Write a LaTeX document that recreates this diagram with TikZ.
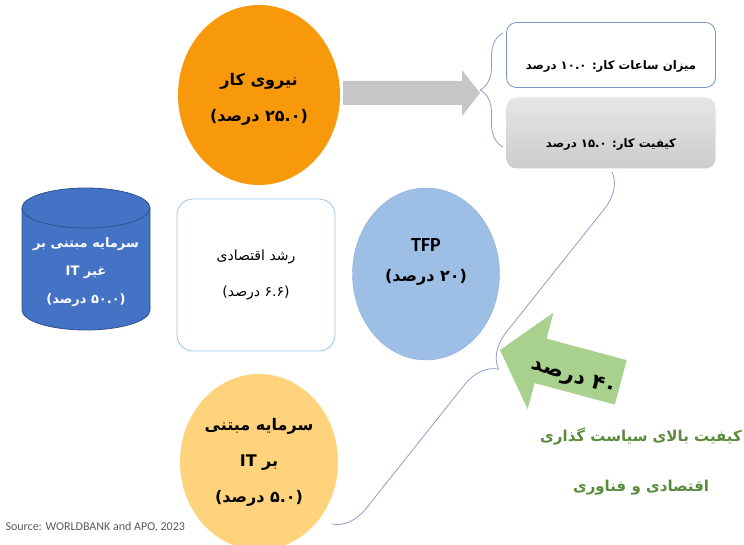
\documentclass[tikz,border=0pt]{standalone}
\usepackage{fontspec}
\setmainfont{Carlito}
\newfontfamily\fa[Script=Arabic]{DejaVu Sans}
\TeXXeTstate=1
\usetikzlibrary{shapes.geometric,decorations.pathreplacing}
\definecolor{labour}{HTML}{F8990B}
\definecolor{itorange}{HTML}{FFD27C}
\definecolor{tfpblue}{HTML}{9DBFE6}
\definecolor{tfpline}{HTML}{8EAADB}
\definecolor{cylfill}{HTML}{4472C4}
\definecolor{cylline}{HTML}{2F528F}
\definecolor{boxline}{HTML}{7895C4}
\definecolor{growthline}{HTML}{9DC3E6}
\definecolor{bracecol}{HTML}{8E9CC8}
\definecolor{arrowgray}{HTML}{C6C6C6}
\definecolor{policygreen}{HTML}{A9D18E}
\definecolor{policytext}{HTML}{5A8A3C}
\newcommand\percline[1]{\beginR\hbox{(}#1 درصد\hbox{)}\endR}
\begin{document}
\begin{tikzpicture}[x=1pt, y=-1pt,
        ball/.style={ellipse, inner sep=0pt, align=center},
        roundbox/.style={rectangle, rounded corners=10pt, inner sep=0pt},
        bigfa/.style={font=\fa\bfseries\fontsize{16}{36}\selectfont},
        boxfa/.style={font=\fa\bfseries\fontsize{11.7}{16}\selectfont},
        bracket/.style={draw=bracecol, line width=0.8pt, decorate, decoration={brace, amplitude=#1}}]
        \useasboundingbox (0,0) rectangle (744,545);

        \node (labour) [ball, bigfa, fill=labour, minimum width=162pt, minimum height=180pt] at (259,95) {};
        \node (labourtext) [align=center, bigfa] at ([yshift=-4pt]labour.center) {\beginR نیروی کار\endR\\\percline{۲۵.۰}};
        \fill[arrowgray] (343,81) -- (462,81) -- (462,70) -- (480,93) -- (462,116) -- (462,105) -- (343,105) -- cycle;
        \draw[bracket=23pt] (503,147) -- (503,33);

        \node (hours) [roundbox, draw=boxline, line width=0.8pt, fill=white, minimum width=209pt, minimum height=65pt] at (611,55) {};
        \node (hourstext) [boxfa] at ([yshift=-11pt]hours.center) {\beginR میزان ساعات کار: ۱۰.۰ درصد\endR};
        \node (quality) [roundbox, top color=gray!20, bottom color=gray!40, minimum width=209pt, minimum height=71pt] at (611,133) {};
        \node (qualitytext) [boxfa] at ([yshift=-11pt]quality.center) {\beginR کیفیت کار: ۱۵.۰ درصد\endR};

        \filldraw[fill=cylfill, draw=cylline, line width=0.8pt] (22,208) -- (22,310) arc[start angle=180, end angle=0, x radius=64, y radius=20] -- (150,208) arc[start angle=0, end angle=-180, x radius=64, y radius=20] -- cycle;
        \draw[cylline, line width=0.8pt] (22,208) arc[start angle=180, end angle=0, x radius=64, y radius=20];
        \node (nonit) [align=center, text=white, font=\fa\bfseries\fontsize{13}{28}\selectfont] at (86,272) {\beginR سرمایه مبتنی بر\endR\\\beginR غیر IT\endR\\\percline{۵۰.۰}};

        \node (growth) [roundbox, rounded corners=16pt, draw=growthline, line width=0.8pt, minimum width=158pt, minimum height=152pt, align=center, font=\fa\fontsize{14}{36}\selectfont] at (256,275) {\beginR رشد اقتصادی\endR\\\percline{۶.۶}};

        \node (tfp) [ball, fill=tfpblue, draw=tfpline, minimum width=147pt, minimum height=172pt] at (426,274) {};
        \node (tfptext) [align=center, font=\fa\bfseries\fontsize{16}{30}\selectfont] at ([yshift=12pt]tfp.center) {{\rmfamily\fontsize{20}{30}\selectfont TFP}\\\percline{۲۰}};

        \node (itcap) [ball, bigfa, fill=itorange, minimum width=158pt, minimum height=176pt] at (259,462) {\beginR سرمایه مبتنی\endR\\\beginR بر IT\endR\\\percline{۵.۰}};

        \draw[bracket=34pt] (612,172) -- (332,524);

        \begin{scope}[shift={(500,350)}, rotate=-15]
            \fill[policygreen] (0,0) -- (42,-50) -- (42,-23) -- (125,-23) -- (125,23) -- (42,23) -- (42,50) -- cycle;
        \end{scope}
        \node (forty) [font=\fa\bfseries\fontsize{21}{24}\selectfont, rotate=-18] at (574,378) {\beginR ۴۰ درصد\endR};
        \node (policy) [align=center, text=policytext, font=\fa\bfseries\fontsize{15}{50}\selectfont] at (641,462) {\beginR کیفیت بالای سیاست گذاری\endR\\\beginR اقتصادی و فناوری\endR};

        \node (source) [anchor=west, text=black!65, font=\fontsize{12}{14}\selectfont] at (2,527) {Source: WORLDBANK and APO, 2023};
\end{tikzpicture}
\end{document}
